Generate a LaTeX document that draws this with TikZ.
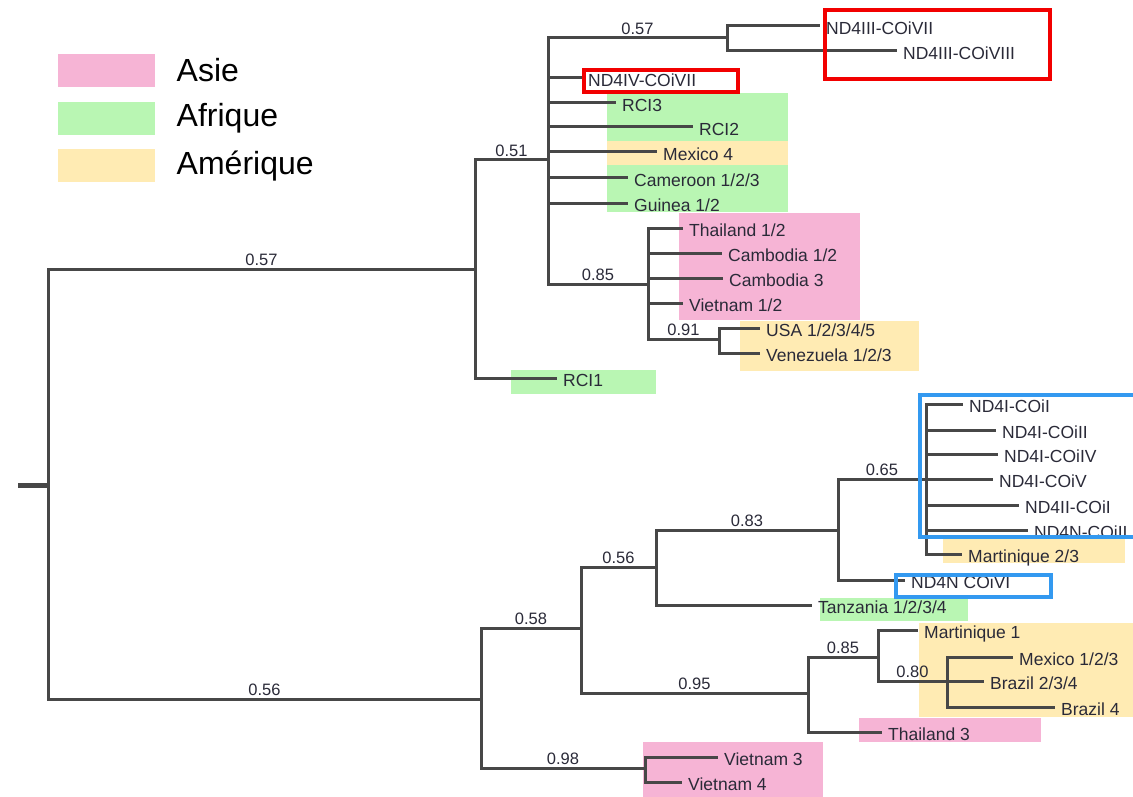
\documentclass[tikz,border=0pt]{standalone}
\usepackage{fontspec}
\setmainfont{Liberation Sans}
\usetikzlibrary{positioning}
\definecolor{branch}{HTML}{474747}
\definecolor{ink}{HTML}{2A2A38}
\definecolor{asie}{HTML}{F6B4D5}
\definecolor{afrique}{HTML}{B9F6B3}
\definecolor{amerique}{HTML}{FFEBB3}
\definecolor{redbox}{HTML}{F20000}
\definecolor{bluebox}{HTML}{3399F0}

\begin{document}
\begin{tikzpicture}[x=1pt,y=-1pt,
		edge/.style={draw=branch,line width=3pt},
		leaf/.style={anchor=west,inner xsep=6pt,inner ysep=0pt,text=ink,text height=17pt,text depth=0pt,font=\fontsize{17.5}{20}\selectfont},
		bs/.style={pos=0.75,above,inner sep=1.5pt,text=ink,font=\fontsize{16.5}{18}\selectfont},
		legpatch/.style={minimum width=97pt,minimum height=33pt,inner sep=0pt},
		legtext/.style={font=\fontsize{32}{36}\selectfont,text=black},
		frame/.style={line width=4pt}]
			\useasboundingbox (0,0) rectangle (1133,797);

			% legend
			\node[legpatch,fill=asie] (asie) at (106.5,70.5) {};
			\node[legpatch,fill=afrique] (afrique) at (106.5,118.5) {};
			\node[legpatch,fill=amerique] (amerique) at (106.5,166) {};
			\node[legtext,right=18pt of asie] {Asie};
			\node[legtext,right=18pt of afrique] {Afrique};
			\node[legtext,right=18pt of amerique] {Am\'erique};

			% origin patches
			\fill[afrique] (607,93) rectangle (788,212);
			\fill[amerique] (607,141) rectangle (788,165);
			\fill[asie] (679,213) rectangle (860,320);
			\fill[amerique] (740,321) rectangle (919,371);
			\fill[afrique] (511,370) rectangle (656,394);
			\fill[amerique] (943,538) rectangle (1125,563);
			\fill[afrique] (820,598) rectangle (968,621);
			\fill[amerique] (919,623) rectangle (1133,717);
			\fill[asie] (859,718) rectangle (1041,742);
			\fill[asie] (643,742) rectangle (823,797);

			% inner nodes
			\coordinate (stub) at (18,485);
			\coordinate (r) at (48,485);
			\coordinate (a) at (475,269);
			\coordinate (b) at (548,160);
			\coordinate (c) at (727,38);
			\coordinate (d) at (648,284);
			\coordinate (e) at (719,339);
			\coordinate (f) at (481,699);
			\coordinate (g) at (581,628);
			\coordinate (h) at (656,567);
			\coordinate (i) at (838,530);
			\coordinate (j) at (926,479);
			\coordinate (k) at (808,693);
			\coordinate (l) at (878,657);
			\coordinate (m) at (947,681);
			\coordinate (n) at (645,768);

			% leaves
			\node[leaf] (nd3a) at (820,26) {ND4III-COiVII};
			\node[leaf] (nd3b) at (897,51) {ND4III-COiVIII};
			\node[leaf] (nd4iv) at (582,78) {ND4IV-COiVII};
			\node[leaf] (rci3) at (616,103) {RCI3};
			\node[leaf] (rci2) at (693,127) {RCI2};
			\node[leaf] (mex4) at (657,152) {Mexico 4};
			\node[leaf] (cam) at (628,178) {Cameroon 1/2/3};
			\node[leaf] (gui) at (628,203) {Guinea 1/2};
			\node[leaf] (tha12) at (683,228) {Thailand 1/2};
			\node[leaf] (cmb12) at (722,253) {Cambodia 1/2};
			\node[leaf] (cmb3) at (723,278) {Cambodia 3};
			\node[leaf] (vie12) at (683,303) {Vietnam 1/2};
			\node[leaf] (usa) at (760,328) {USA 1/2/3/4/5};
			\node[leaf] (ven) at (760,353) {Venezuela 1/2/3};
			\node[leaf] (rci1) at (557,378) {RCI1};

			\node[leaf] (i1) at (963,404) {ND4I-COiI};
			\node[leaf] (i2) at (996,430) {ND4I-COiII};
			\node[leaf] (i4) at (998,454) {ND4I-COiIV};
			\node[leaf] (i5) at (993,479) {ND4I-COiV};
			\node[leaf] (ii1) at (1019,505) {ND4II-COiI};
			\node[leaf] (n2) at (1028,530) {ND4N-COiII};
			\node[leaf] (mar23) at (962,554) {Martinique 2/3};
			\node[leaf] (n6) at (905,580) {ND4N COiVI};
			\node[leaf] (tan) at (812,605) {Tanzania 1/2/3/4};
			\node[leaf] (mar1) at (918,630) {Martinique 1};
			\node[leaf] (mex123) at (1013,657) {Mexico 1/2/3};
			\node[leaf] (bra234) at (984,681) {Brazil 2/3/4};
			\node[leaf] (bra4) at (1055,707) {Brazil 4};
			\node[leaf] (tha3) at (882,732) {Thailand 3};
			\node[leaf] (vie3) at (718,757) {Vietnam 3};
			\node[leaf] (vie4) at (682,782) {Vietnam 4};

			% branches
			\draw[edge,line width=5pt] (stub) -- (r);
			\draw[edge] (r) |- node[bs]{0.57} (a);
			\draw[edge] (r) |- node[bs]{0.56} (f);

			\draw[edge] (a) |- node[bs]{0.51} (b);
			\draw[edge] (a) |- (rci1);
			\draw[edge] (b) |- node[bs]{0.57} (c);
			\draw[edge] (c) |- (nd3a);
			\draw[edge] (c) |- (nd3b);
			\draw[edge] (b) |- (nd4iv);
			\draw[edge] (b) |- (rci3);
			\draw[edge] (b) |- (rci2);
			\draw[edge] (b) |- (mex4);
			\draw[edge] (b) |- (cam);
			\draw[edge] (b) |- (gui);
			\draw[edge] (b) |- node[bs]{0.85} (d);
			\draw[edge] (d) |- (tha12);
			\draw[edge] (d) |- (cmb12);
			\draw[edge] (d) |- (cmb3);
			\draw[edge] (d) |- (vie12);
			\draw[edge] (d) |- node[bs]{0.91} (e);
			\draw[edge] (e) |- (usa);
			\draw[edge] (e) |- (ven);

			\draw[edge] (f) |- node[bs]{0.58} (g);
			\draw[edge] (f) |- node[bs]{0.98} (n);
			\draw[edge] (g) |- node[bs]{0.56} (h);
			\draw[edge] (g) |- node[bs]{0.95} (k);
			\draw[edge] (h) |- node[bs]{0.83} (i);
			\draw[edge] (h) |- (tan);
			\draw[edge] (i) |- node[bs]{0.65} (j);
			\draw[edge] (i) |- (n6);
			\draw[edge] (j) |- (i1);
			\draw[edge] (j) |- (i2);
			\draw[edge] (j) |- (i4);
			\draw[edge] (j) |- (i5);
			\draw[edge] (j) |- (ii1);
			\draw[edge] (j) |- (n2);
			\draw[edge] (j) |- (mar23);
			\draw[edge] (k) |- node[bs]{0.85} (l);
			\draw[edge] (k) |- (tha3);
			\draw[edge] (l) |- (mar1);
			\draw[edge] (l) |- node[bs]{0.80} (m);
			\draw[edge] (m) |- (mex123);
			\draw[edge] (m) |- (bra234);
			\draw[edge] (m) |- (bra4);
			\draw[edge] (n) |- (vie3);
			\draw[edge] (n) |- (vie4);

			% frames
			\draw[frame,redbox] (825,10) rectangle (1050,79);
			\draw[frame,redbox] (584,70) rectangle (738,92);
			\draw[frame,bluebox] (920,395) rectangle (1140,537);
			\draw[frame,bluebox] (896,575) rectangle (1051,597);
		\end{tikzpicture}
\end{document}
